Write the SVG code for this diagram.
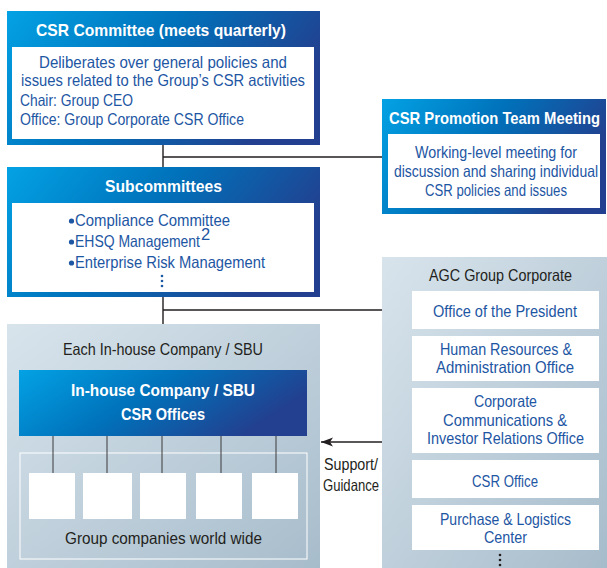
<svg xmlns="http://www.w3.org/2000/svg" width="607" height="568" viewBox="0 0 607 568">
<defs>
<linearGradient id="blue" x1="0" y1="0" x2="1" y2="0.35">
<stop offset="0" stop-color="#03a2e4"/>
<stop offset="0.5" stop-color="#0072bb"/>
<stop offset="1" stop-color="#22408f"/>
</linearGradient>
<linearGradient id="grey" x1="0" y1="0" x2="1" y2="1">
<stop offset="0" stop-color="#d8e4ec"/>
<stop offset="1" stop-color="#a7bccb"/>
</linearGradient>
<marker id="arr" markerWidth="12" markerHeight="10" refX="12" refY="5" orient="auto" markerUnits="userSpaceOnUse">
<path d="M12,5 L0,0.5 L3,5 L0,9.5 Z" fill="#231f20"/>
</marker>
</defs>
<style>
text{font-family:"Liberation Sans Narrow","Liberation Sans",Arial,sans-serif;}
.h{fill:#fff;font-weight:bold;font-size:17px;}
.b{fill:#1d56a3;font-size:16.5px;}
.k{fill:#231f20;font-size:16.5px;}
.wh{fill:#fff;}
.ln{stroke:#231f20;stroke-width:1.4;fill:none;}
.sl{stroke:#3a3a3a;stroke-width:1;fill:none;}
.dot{fill:#1d56a3;}
</style>
<rect width="607" height="568" fill="#fff"/>

<g id="connectors">
<path class="ln" d="M163,145 V167 M163,157 H382"/>
<path class="ln" d="M163,297 V324 M163,310 H412"/>
<path class="ln" d="M397,310 V530"/>
<path class="ln" d="M397,530 V568" stroke-dasharray="3,3"/>
<path class="ln" d="M397,358 H412 M397,421 H412 M397,479 H412 M397,527 H412"/>
<path class="ln" d="M382,442 H321" marker-end="url(#arr)"/>
</g>

<g id="csr-committee">
<rect x="7" y="11" width="313" height="134" fill="url(#blue)"/>
<rect class="wh" x="12" y="47" width="302" height="92"/>
<text class="h" x="36" y="36" textLength="250" lengthAdjust="spacingAndGlyphs">CSR Committee (meets quarterly)</text>
<text class="b" x="39" y="68" textLength="248" lengthAdjust="spacingAndGlyphs">Deliberates over general policies and</text>
<text class="b" x="21" y="86" textLength="284" lengthAdjust="spacingAndGlyphs">issues related to the Group’s CSR activities</text>
<text class="b" x="20" y="106" textLength="113" lengthAdjust="spacingAndGlyphs">Chair: Group CEO</text>
<text class="b" x="20" y="125" textLength="224" lengthAdjust="spacingAndGlyphs">Office: Group Corporate CSR Office</text>
</g>

<g id="csr-promotion">
<rect x="382" y="99" width="224" height="115" fill="url(#blue)"/>
<rect class="wh" x="388" y="134" width="212" height="74"/>
<text class="h" x="389" y="124" textLength="211" lengthAdjust="spacingAndGlyphs">CSR Promotion Team Meeting</text>
<text class="b" x="415" y="158" font-size="15.5" textLength="162" lengthAdjust="spacingAndGlyphs">Working-level meeting for</text>
<text class="b" x="394" y="177" font-size="15.5" textLength="204" lengthAdjust="spacingAndGlyphs">discussion and sharing individual</text>
<text class="b" x="425" y="196" font-size="15.5" textLength="142" lengthAdjust="spacingAndGlyphs">CSR policies and issues</text>
</g>

<g id="subcommittees">
<rect x="7" y="167" width="313" height="130" fill="url(#blue)"/>
<rect class="wh" x="12" y="203" width="302" height="89"/>
<text class="h" x="105" y="192" textLength="117" lengthAdjust="spacingAndGlyphs">Subcommittees</text>
<circle class="dot" cx="71.5" cy="221" r="2.6"/>
<text class="b" x="75" y="226" textLength="155" lengthAdjust="spacingAndGlyphs">Compliance Committee</text>
<circle class="dot" cx="71.5" cy="242" r="2.6"/>
<text class="b" x="75" y="247" textLength="125" lengthAdjust="spacingAndGlyphs">EHSQ Management</text>
<text class="b" x="201" y="240" font-size="9.5">2</text>
<circle class="dot" cx="71.5" cy="263" r="2.6"/>
<text class="b" x="75" y="268" textLength="190" lengthAdjust="spacingAndGlyphs">Enterprise Risk Management</text>
<circle class="dot" cx="162" cy="276" r="1.3"/>
<circle class="dot" cx="162" cy="281" r="1.3"/>
<circle class="dot" cx="162" cy="286" r="1.3"/>
</g>

<g id="agc-group-corporate">
<rect x="382" y="257" width="225" height="311" fill="url(#grey)"/>
<text class="k" x="429" y="281" textLength="143" lengthAdjust="spacingAndGlyphs">AGC Group Corporate</text>
<circle cx="500" cy="555" r="1.3" fill="#231f20"/>
<circle cx="500" cy="560" r="1.3" fill="#231f20"/>
<circle cx="500" cy="565" r="1.3" fill="#231f20"/>
</g>

<g id="office-president">
<rect class="wh" x="412" y="291" width="187" height="38"/>
<text class="b" x="433" y="317" textLength="144" lengthAdjust="spacingAndGlyphs">Office of the President</text>
</g>
<g id="hr-office">
<rect class="wh" x="412" y="336" width="187" height="45"/>
<text class="b" x="440" y="355" textLength="132" lengthAdjust="spacingAndGlyphs">Human Resources &amp;</text>
<text class="b" x="436" y="373" textLength="138" lengthAdjust="spacingAndGlyphs">Administration Office</text>
</g>
<g id="cc-ir-office">
<rect class="wh" x="412" y="388" width="187" height="65"/>
<text class="b" x="474" y="407" textLength="63" lengthAdjust="spacingAndGlyphs">Corporate</text>
<text class="b" x="443" y="426" textLength="124" lengthAdjust="spacingAndGlyphs">Communications &amp;</text>
<text class="b" x="427" y="444" textLength="157" lengthAdjust="spacingAndGlyphs">Investor Relations Office</text>
</g>
<g id="csr-office">
<rect class="wh" x="412" y="460" width="187" height="38"/>
<text class="b" x="472" y="487" textLength="66" lengthAdjust="spacingAndGlyphs">CSR Office</text>
</g>
<g id="purchase-logistics">
<rect class="wh" x="412" y="505" width="187" height="45"/>
<text class="b" x="440" y="525" textLength="131" lengthAdjust="spacingAndGlyphs">Purchase &amp; Logistics</text>
<text class="b" x="484" y="543" textLength="43" lengthAdjust="spacingAndGlyphs">Center</text>
</g>

<g id="each-inhouse-company">
<rect x="7" y="324" width="313" height="244" fill="url(#grey)"/>
<text class="k" x="63" y="355" textLength="200" lengthAdjust="spacingAndGlyphs">Each In-house Company / SBU</text>
<rect x="20" y="453" width="287" height="106" fill="none" stroke="#fff" stroke-width="1"/>
<path class="sl" d="M53,436 V473 M107,436 V473 M162,436 V473 M221,436 V473 M276,436 V473"/>
<rect class="wh" x="29" y="473" width="46" height="46"/>
<rect class="wh" x="83" y="473" width="49" height="46"/>
<rect class="wh" x="140" y="473" width="46" height="46"/>
<rect class="wh" x="196" y="473" width="46" height="46"/>
<rect class="wh" x="252" y="473" width="46" height="46"/>
<text class="k" x="65" y="544" textLength="197" lengthAdjust="spacingAndGlyphs">Group companies world wide</text>
</g>

<g id="inhouse-csr-offices">
<rect x="19" y="370" width="288" height="66" fill="url(#blue)"/>
<text class="h" x="71" y="396" textLength="184" lengthAdjust="spacingAndGlyphs">In-house Company / SBU</text>
<text class="h" x="121" y="420" textLength="84" lengthAdjust="spacingAndGlyphs">CSR Offices</text>
</g>

<g id="support-label">
<text class="k" x="324" y="470" font-size="15.5" textLength="54" lengthAdjust="spacingAndGlyphs">Support/</text>
<text class="k" x="323" y="491" font-size="15.5" textLength="56" lengthAdjust="spacingAndGlyphs">Guidance</text>
</g>
</svg>
